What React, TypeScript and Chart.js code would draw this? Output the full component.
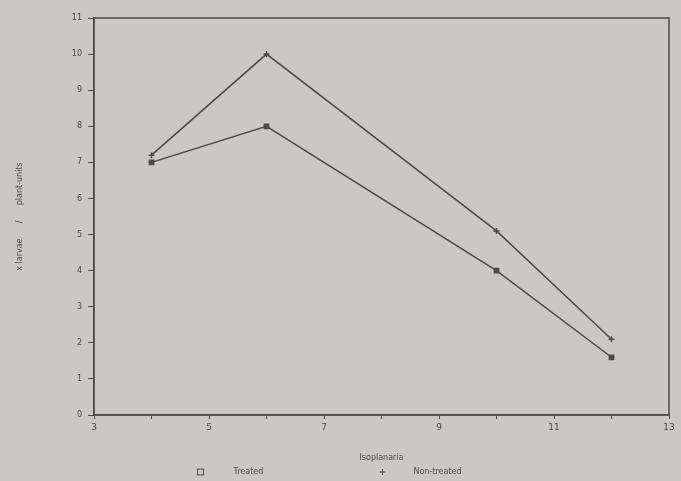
import React, { useEffect, useRef } from "react";
import { Chart, registerables } from "chart.js";

Chart.register(...registerables);

const xValues = [4, 6, 10, 12];
const treated = [7.0, 8.0, 4.0, 1.6];
const nonTreated = [7.2, 10.0, 5.1, 2.1];
const seriesLabels = ["Treated", "Non-treated"];
const xTitle = "Isoplanaria";
const yTitle = "x larvae      /      plant-units";

const INK = "#4a4a48";
const BG = "#c9c8c3";

const framePlugin = {
  id: "frame",
  beforeDraw(chart: any) {
    const { ctx, width, height } = chart;
    ctx.save();
    ctx.fillStyle = BG;
    ctx.fillRect(0, 0, width, height);
    ctx.restore();
  },
  afterDraw(chart: any) {
    const { ctx, chartArea } = chart;
    ctx.save();
    ctx.strokeStyle = INK;
    ctx.lineWidth = 1.5;
    ctx.strokeRect(chartArea.left, chartArea.top, chartArea.right - chartArea.left, chartArea.bottom - chartArea.top);
    // legend
    const y = chart.height - 9;
    const cx = chart.width / 2;
    ctx.fillStyle = INK;
    ctx.font = "8px 'DejaVu Sans'";
    ctx.textBaseline = "middle";
    ctx.lineWidth = 1;
    // square
    ctx.strokeRect(cx - 143, y - 3, 6, 6);
    ctx.fillText(seriesLabels[0], cx - 107, y);
    // plus
    ctx.beginPath();
    ctx.moveTo(cx + 42, y - 3);
    ctx.lineTo(cx + 42, y + 3);
    ctx.moveTo(cx + 39, y);
    ctx.lineTo(cx + 45, y);
    ctx.stroke();
    ctx.fillText(seriesLabels[1], cx + 73, y);
    ctx.restore();
  },
};

export default function App() {
  const ref = useRef<HTMLCanvasElement | null>(null);
  useEffect(() => {
    if (!ref.current) return;
    const chart = new Chart(ref.current, {
      type: "line",
      data: {
        datasets: [
          {
            label: seriesLabels[0],
            data: xValues.map((x, i) => ({ x, y: treated[i] })),
            borderColor: INK,
            backgroundColor: INK,
            borderWidth: 1.5,
            pointStyle: "rect",
            pointRadius: 3,
            pointBorderWidth: 1.5,
          },
          {
            label: seriesLabels[1],
            data: xValues.map((x, i) => ({ x, y: nonTreated[i] })),
            borderColor: INK,
            backgroundColor: INK,
            borderWidth: 1.5,
            pointStyle: "cross",
            pointRadius: 3,
            pointBorderWidth: 1.5,
          },
        ],
      },
      options: {
        animation: false,
        responsive: false,
        layout: { padding: { top: 18, right: 12, left: 0, bottom: 18 } },
        plugins: { legend: { display: false }, tooltip: { enabled: false } },
        scales: {
          x: {
            type: "linear",
            min: 3,
            max: 13,
            border: { color: INK, width: 1.5 },
            grid: { drawOnChartArea: false, color: INK, tickLength: 4 },
            ticks: {
              stepSize: 1,
              autoSkip: false,
              maxRotation: 0,
              color: INK,
              font: { family: "DejaVu Sans", size: 9 },
              callback: (v: any) => (Number(v) % 2 === 1 ? String(v) : ""),
            },
            title: {
              display: true,
              text: xTitle,
              color: INK,
              font: { family: "DejaVu Sans", size: 8 },
              padding: { top: 15, bottom: 0 },
            },
            afterFit: (s: any) => {
              s.height = 48;
            },
          },
          y: {
            min: 0,
            max: 11,
            border: { color: INK, width: 1.5 },
            grid: { drawOnChartArea: false, color: INK, tickLength: 6 },
            ticks: {
              stepSize: 1,
              color: INK,
              font: { family: "DejaVu Sans", size: 8 },
              padding: 6,
            },
            title: {
              display: true,
              text: yTitle,
              color: INK,
              font: { family: "DejaVu Sans", size: 8 },
              padding: { top: 15, bottom: 4 },
            },
            afterFit: (s: any) => {
              s.width = 94;
            },
          },
        },
      },
      plugins: [framePlugin],
    });
    return () => chart.destroy();
  }, []);
  return (
    <div style={{ position: "absolute", left: 0, top: 0, width: 681, height: 481 }}>
      <canvas ref={ref} width={681} height={481} style={{ display: "block" }} />
    </div>
  );
}
